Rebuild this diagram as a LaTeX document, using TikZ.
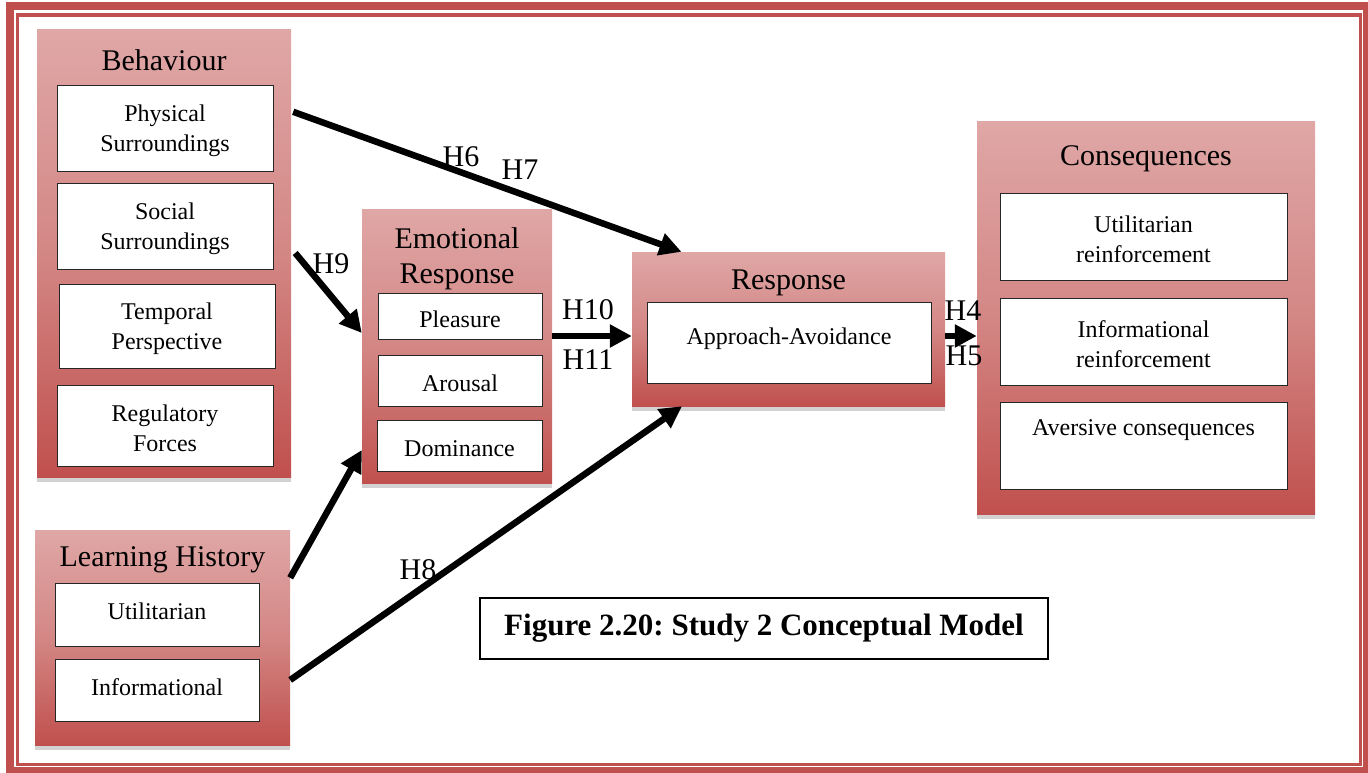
\documentclass[tikz,border=0pt]{standalone}
\usepackage{fontspec}
\setmainfont{Liberation Serif}
\usetikzlibrary{arrows.meta,shadows}
\definecolor{accent}{HTML}{C0504D}
\definecolor{shadetop}{HTML}{DFA7A6}
\definecolor{shademid}{HTML}{D38785}
\definecolor{shadowgray}{HTML}{D2D2D2}
\frenchspacing
\begin{document}
\begin{tikzpicture}[x=1pt,y=-1pt,
  group/.style={rectangle, inner sep=0pt, top color=shadetop, bottom color=accent, middle color=shademid,
    drop shadow={shadow xshift=0pt, shadow yshift=-5pt, fill=shadowgray, opacity=1}},
  cell/.style={rectangle, draw=black!85, line width=1pt, fill=white, inner sep=0pt},
  celltext/.style={inner sep=0pt, align=center, yshift=-3pt, font=\fontsize{24}{30}\selectfont},
  title/.style={inner sep=0pt, align=center, font=\fontsize{30}{35}\selectfont},
  hyp/.style={inner sep=0pt, font=\fontsize{30}{30}\selectfont},
  link/.style={line width=6.5pt, -{Triangle[length=22pt,width=22pt]}}
]
\useasboundingbox (0,0) rectangle (1368,772);

% page frame: thick outer band and thin inner rule
\draw[accent, line width=8pt] (10,6) rectangle (1367,771);
\draw[accent, line width=3.5pt] (17.5,15) rectangle (1360.5,764.5);

% Behaviour
\node[group, minimum width=254, minimum height=448] (beh) at (164,253) {};
\node[title] (behT) at (164,60) {Behaviour};
\node[cell, minimum width=216, minimum height=86, label={[celltext]center:Physical\\Surroundings}] (phys) at (165,128) {};
\node[cell, minimum width=216, minimum height=86, label={[celltext]center:Social\\Surroundings}] (soc) at (165,226) {};
\node[cell, minimum width=216, minimum height=84, label={[celltext]center:Temporal\\Perspective}] (temp) at (167,326) {};
\node[cell, minimum width=216, minimum height=81, label={[celltext]center:Regulatory\\Forces}] (reg) at (165,425.5) {};

% Emotional Response
\node[group, minimum width=190, minimum height=274] (emo) at (457,346) {};
\node[title] (emoT) at (457,259) {Emotional\\Response};
\node[cell, minimum width=164, minimum height=46, label={[celltext]center:Pleasure}] (pleas) at (460,316) {};
\node[cell, minimum width=164, minimum height=51, label={[celltext]center:Arousal}] (arous) at (460,380.5) {};
\node[cell, minimum width=165, minimum height=51, label={[celltext]center:Dominance}] (domin) at (459.5,445.5) {};

% Response
\node[group, minimum width=313, minimum height=154] (resp) at (788.5,329) {};
\node[title] (respT) at (788.5,283) {Response};
\node[cell, minimum width=284, minimum height=81, label={[celltext, yshift=7pt]center:Approach-Avoidance}] (appr) at (789,342.5) {};

% Consequences
\node[group, minimum width=338, minimum height=393] (cons) at (1146,317.5) {};
\node[title] (consT) at (1146,159) {Consequences};
\node[cell, minimum width=287, minimum height=87, label={[celltext]center:Utilitarian\\reinforcement}] (cutil) at (1143.5,236.5) {};
\node[cell, minimum width=287, minimum height=87, label={[celltext]center:Informational\\reinforcement}] (cinfo) at (1143.5,341.5) {};
\node[cell, minimum width=287, minimum height=87, label={[celltext, yshift=18pt]center:Aversive consequences}] (caver) at (1143.5,445.5) {};

% Learning History
\node[group, minimum width=255, minimum height=215] (learn) at (162.5,637.5) {};
\node[title] (learnT) at (162.5,560) {Learning History};
\node[cell, minimum width=204, minimum height=63, label={[celltext, yshift=6pt]center:Utilitarian}] (lutil) at (157,614.5) {};
\node[cell, minimum width=204, minimum height=62, label={[celltext, yshift=6pt]center:Informational}] (linfo) at (157,690) {};

% Caption
\node[draw=black, line width=1.3pt, fill=white, minimum width=568, minimum height=61, inner sep=0pt,
  font=\fontsize{31}{31}\selectfont\bfseries] (cap) at (764,628.5) {Figure 2.20: Study 2 Conceptual Model};

% Hypothesised paths
\draw[link] ([xshift=2pt,yshift=-83pt]beh.north east) -- ([xshift=-107pt]resp.north);
\draw[link] ([xshift=4pt]beh.east) -- ([yshift=13pt]emo.west);
\draw[link] ([yshift=-48pt]learn.north east) -- ([yshift=-104pt]emo.west);
\draw[link] ([yshift=-42.5pt]learn.east) -- ([xshift=-106.5pt]resp.south);
\draw[link] ([yshift=10pt]emo.east) -- ([yshift=-7pt]resp.west);
\draw[link] ([yshift=-7pt]resp.east) -- ([yshift=-18.5pt]cons.west);

% Hypothesis labels
\node[hyp] (h6) at (461,157) {H6};
\node[hyp] (h7) at (520,170) {H7};
\node[hyp] (h9) at (331,264) {H9};
\node[hyp] (h10) at (588,310) {H10};
\node[hyp] (h11) at (588,360) {H11};
\node[hyp] (h8) at (418,570) {H8};
\node[hyp] (h4) at (963,311) {H4};
\node[hyp] (h5) at (964,356) {H5};
\end{tikzpicture}
\end{document}
